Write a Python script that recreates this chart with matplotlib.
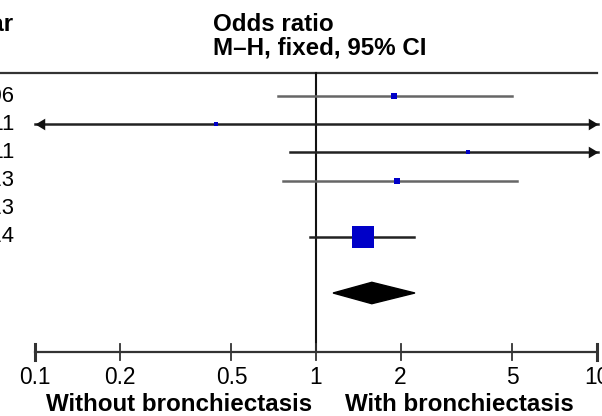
import numpy as np
import matplotlib
matplotlib.use('Agg')
from matplotlib import pyplot as plt
from matplotlib.patches import Polygon
from matplotlib.path import Path

plt.rcParams['font.family'] = ['Liberation Sans', 'DejaVu Sans']

# 各研究年份与效应量 (OR 及 95% CI)
years = ['2006', '2011', '2011', '2013', '2013', '2014']
odds = [1.90, 0.44, 3.47, 1.94, np.nan, 1.47]
ci_low = [0.73, 0.02, 0.81, 0.76, np.nan, 0.95]
ci_high = [4.98, 15.0, 14.0, 5.19, np.nan, 2.23]
weights = [5.5, 2.0, 2.0, 7.0, 0.0, 83.5]

# 合并效应
total_or = 1.58
total_low = 1.15
total_high = 2.25

ticks = [0.1, 0.2, 0.5, 1, 2, 5, 10]
tick_labels = ['0.1', '0.2', '0.5', '1', '2', '5', '10']

xmin, xmax = 0.1, 10
row_px = 28.2      # 每行像素高度
row0_px = 96       # 第一行中心像素位置
H = 416
bold_size = 17.4
norm_size = 16.4
year_size = 15.8

# 箭头标记: 尖端位于原点
head_right = Path([(0, 0), (-1, 0.6), (-1, -0.6), (0, 0)], closed=True)
head_left = Path([(0, 0), (1, 0.6), (1, -0.6), (0, 0)], closed=True)


def px2row(y):
    """像素纵坐标换算为行坐标"""
    return (y - row0_px) / row_px


fig = plt.figure(figsize=(6.02, 4.16), dpi=100)
ax = fig.add_axes([35 / 602, 0, 562 / 602, 1])
ax.set_xscale('log')
ax.set_xlim(xmin, xmax)
ax.set_ylim(px2row(H), px2row(0))
ax.axis('off')

trans = ax.get_yaxis_transform()  # x 为轴比例, y 为数据

# 表头
ax.text((14 - 35) / 562, px2row(31), 'Year', ha='right', va='baseline',
        fontsize=bold_size, fontweight='bold', transform=trans, clip_on=False)
ax.text((213 - 35) / 562, px2row(31), 'Odds ratio', ha='left', va='baseline',
        fontsize=bold_size, fontweight='bold', transform=trans, clip_on=False)
ax.text((213 - 35) / 562, px2row(54), 'M\u2013H, fixed, 95% CI', ha='left', va='baseline',
        fontsize=bold_size, fontweight='bold', transform=trans, clip_on=False)

# 分隔线
ax.plot([-35 / 562, 1.0], [px2row(73)] * 2, color='#333333', lw=1.6,
        transform=trans, clip_on=False)

# 无效线 OR=1
y_axis = px2row(352)
ax.plot([1, 1], [px2row(73), y_axis], color='#111111', lw=1.5, clip_on=False)

# 各研究
for i, (yr, o, lo, hi, w) in enumerate(zip(years, odds, ci_low, ci_high, weights)):
    ax.text((15 - 35) / 562, i, yr, ha='right', va='center', fontsize=year_size,
            transform=trans, clip_on=False)
    if np.isnan(o):
        continue
    lo_c = max(lo, xmin)
    hi_c = min(hi, xmax * 1.008)
    col = '#222222' if (lo < xmin or hi > xmax or w > 50) else '#666666'
    ax.plot([lo_c, hi_c], [i, i], color=col, lw=1.8, clip_on=False, zorder=2)
    if lo < xmin:
        ax.plot(lo_c, i, marker=head_left, ms=14, color='#111111', mew=0,
                clip_on=False, zorder=3)
    if hi > xmax:
        ax.plot(hi_c, i, marker=head_right, ms=14, color='#111111', mew=0,
                clip_on=False, zorder=3)
    size_px = 2.39 * np.sqrt(w)
    ax.plot(o, i, marker='s', ms=size_px * 72 / 100, color='#0000c8', mew=0,
            clip_on=False, zorder=4)

# 合并效应菱形
y_tot = px2row(293)
h = 0.38
diamond = Polygon([[total_low, y_tot], [total_or, y_tot - h],
                   [total_high, y_tot], [total_or, y_tot + h]],
                  closed=True, facecolor='black', edgecolor='black', lw=1, clip_on=False)
ax.add_patch(diamond)

# 坐标轴
ax.plot([xmin, xmax], [y_axis, y_axis], color='#333333', lw=1.6, clip_on=False)
for t, lab in zip(ticks, tick_labels):
    tick_lw = 2.2 if t in (xmin, xmax) else 1.3
    ax.plot([t, t], [y_axis - 0.3, y_axis + 0.3], color='#333333', lw=tick_lw, clip_on=False)
    ax.text(t, px2row(384), lab, ha='center', va='baseline', fontsize=norm_size, clip_on=False)

ax.text((312 - 35) / 562, px2row(411), 'Without bronchiectasis', ha='right', va='baseline',
        fontsize=bold_size, fontweight='bold', transform=trans, clip_on=False)
ax.text((345 - 35) / 562, px2row(411), 'With bronchiectasis', ha='left', va='baseline',
        fontsize=bold_size, fontweight='bold', transform=trans, clip_on=False)

plt.savefig('out.png', dpi=100)
